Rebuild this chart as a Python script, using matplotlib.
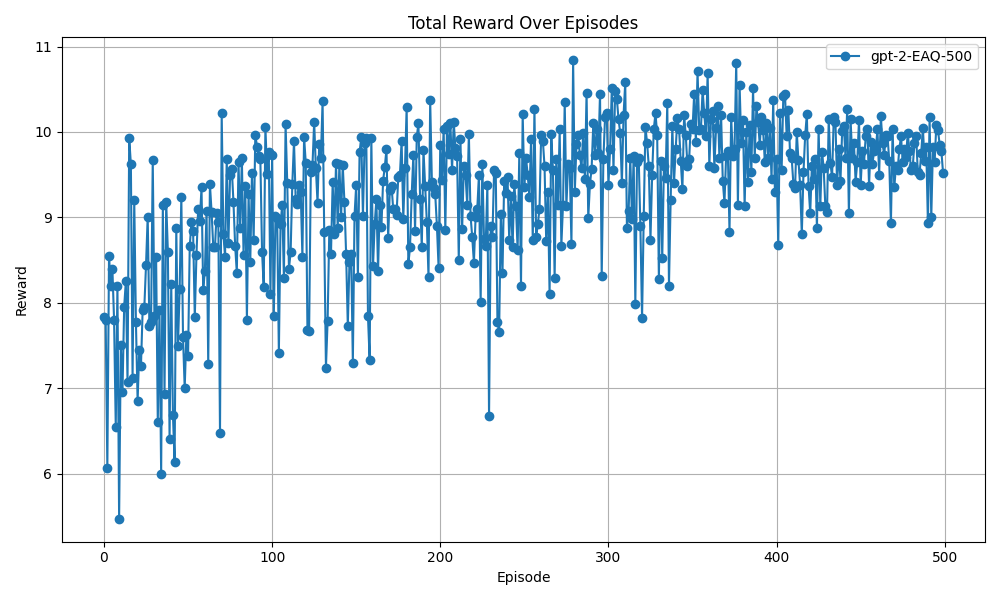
import numpy as np
import matplotlib
matplotlib.use("Agg")
import matplotlib.pyplot as plt

# rewards, 10 episodes per row
rewards = [
    7.83, 7.8, 6.07, 8.55, 8.2, 8.4, 7.8, 6.55, 8.2, 5.47,
    7.5, 6.95, 7.95, 8.25, 7.07, 9.93, 9.62, 7.12, 9.2, 7.77,
    6.85, 7.45, 7.26, 7.92, 7.95, 8.44, 9.01, 7.73, 7.78, 9.67,
    7.85, 8.54, 6.6, 7.92, 5.99, 9.15, 6.93, 9.18, 8.6, 6.41,
    8.22, 6.69, 6.13, 8.87, 7.49, 8.16, 9.24, 7.6, 7.0, 7.62,
    7.38, 8.66, 8.94, 8.84, 7.83, 8.56, 9.1, 8.96, 9.35, 8.15,
    8.37, 9.08, 7.28, 9.39, 9.06, 8.65, 8.65, 9.05, 8.95, 6.47,
    10.22, 8.81, 8.54, 9.68, 8.7, 9.5, 9.57, 9.18, 8.67, 8.35,
    9.65, 8.88, 9.69, 8.56, 9.37, 7.8, 9.27, 8.48, 9.52, 8.73,
    9.97, 9.83, 9.72, 9.68, 8.6, 8.19, 10.06, 9.51, 9.77, 8.1,
    9.73, 7.85, 9.02, 8.99, 7.41, 8.92, 9.15, 8.29, 10.09, 9.4,
    8.4, 8.59, 9.39, 9.89, 9.21, 9.16, 9.38, 9.3, 8.54, 9.94,
    9.64, 7.68, 7.67, 9.53, 9.61, 10.12, 9.58, 9.17, 9.86, 9.7,
    10.36, 8.83, 7.24, 7.79, 8.85, 8.57, 9.41, 8.81, 9.64, 8.87,
    9.63, 9.0, 9.61, 9.18, 8.57, 7.73, 8.48, 8.57, 7.3, 9.02,
    9.38, 8.3, 9.76, 9.94, 9.02, 9.87, 9.93, 7.84, 7.33, 9.93,
    8.43, 8.92, 9.21, 8.37, 9.15, 8.89, 9.43, 9.59, 9.8, 8.76,
    9.32, 9.37, 9.1, 9.1, 9.03, 9.47, 9.5, 9.9, 8.98, 9.58,
    10.29, 8.45, 8.65, 9.27, 9.73, 8.84, 9.94, 10.1, 9.22, 8.65,
    9.79, 9.37, 8.95, 8.3, 10.37, 9.42, 9.34, 9.27, 8.9, 8.41,
    9.85, 9.44, 10.04, 8.85, 10.07, 9.74, 10.11, 9.55, 10.12, 9.81,
    9.72, 8.5, 9.92, 8.86, 9.6, 9.5, 9.15, 9.98, 9.02, 8.77,
    8.47, 9.0, 9.1, 9.5, 8.01, 9.63, 8.75, 8.67, 9.38, 6.67,
    8.9, 8.77, 9.55, 9.52, 7.77, 7.66, 9.04, 8.35, 9.43, 9.28,
    9.47, 8.74, 9.25, 8.65, 9.39, 9.13, 8.62, 9.75, 8.2, 10.21,
    9.35, 9.69, 9.5, 9.24, 9.92, 8.73, 10.27, 8.77, 8.92, 9.1,
    9.97, 9.9, 9.6, 8.72, 9.3, 8.1, 9.98, 9.55, 8.29, 9.68,
    9.14, 10.03, 8.67, 9.15, 10.35, 9.13, 9.62, 9.58, 8.69, 10.84,
    9.3, 9.86, 9.96, 9.73, 9.58, 9.99, 9.45, 10.46, 8.99, 9.39,
    9.57, 10.1, 9.73, 10.03, 9.75, 10.45, 8.31, 9.68, 10.18, 10.22,
    9.38, 9.8, 10.51, 9.55, 10.48, 10.39, 10.15, 9.99, 9.4, 10.2,
    10.58, 8.87, 9.07, 9.7, 8.98, 9.72, 7.99, 9.65, 9.7, 8.9,
    7.82, 9.02, 10.06, 9.87, 9.6, 8.74, 9.5, 10.04, 10.22, 9.96,
    8.28, 9.66, 8.52, 9.6, 9.46, 10.34, 8.2, 9.2, 10.07, 9.4,
    9.8, 10.16, 10.04, 9.66, 9.33, 10.2, 9.96, 9.6, 9.68, 10.09,
    10.03, 10.45, 9.88, 10.71, 10.02, 10.03, 10.49, 10.22, 9.95, 10.69,
    9.6, 10.15, 10.25, 9.58, 10.05, 10.3, 9.7, 10.2, 9.43, 9.17,
    9.72, 9.78, 8.83, 10.17, 9.72, 9.8, 10.81, 9.14, 10.55, 9.87,
    10.14, 9.13, 10.0, 9.42, 10.08, 9.53, 10.51, 9.7, 10.3, 10.12,
    9.85, 10.17, 10.02, 9.65, 10.1, 9.7, 10.05, 9.45, 10.37, 9.3,
    9.68, 8.68, 10.22, 9.55, 10.42, 10.44, 9.95, 10.26, 9.75, 9.69,
    9.39, 9.34, 10.0, 9.67, 9.38, 8.8, 9.53, 9.96, 10.21, 9.37,
    9.05, 9.6, 9.45, 9.68, 8.87, 10.04, 9.13, 9.77, 9.58, 9.13,
    9.06, 10.15, 9.64, 9.47, 10.17, 10.12, 9.38, 9.8, 9.43, 10.01,
    10.07, 9.7, 10.27, 9.05, 10.15, 9.7, 9.87, 9.42, 9.65, 10.14,
    9.38, 9.78, 9.63, 9.95, 10.03, 9.37, 9.88, 9.62, 9.78, 9.8,
    10.03, 9.5, 10.19, 9.87, 9.73, 9.97, 9.95, 9.66, 8.93, 10.03,
    9.35, 9.6, 9.56, 9.8, 9.95, 9.65, 9.8, 9.71, 9.99, 9.78,
    9.55, 9.6, 9.87, 9.95, 9.53, 9.5, 9.75, 10.05, 9.66, 9.82,
    8.93, 10.17, 9.0, 9.83, 9.65, 10.08, 10.02, 9.85, 9.78, 9.52,
]
episodes = np.arange(len(rewards))

fig, ax = plt.subplots(figsize=(10, 6), dpi=100)
ax.plot(episodes, rewards, marker="o", color="#1f77b4", label="gpt-2-EAQ-500")
ax.set_title("Total Reward Over Episodes")
ax.set_xlabel("Episode")
ax.set_ylabel("Reward")
ax.grid(True)
ax.legend(loc="upper right")
fig.tight_layout()
fig.savefig("out.png")
